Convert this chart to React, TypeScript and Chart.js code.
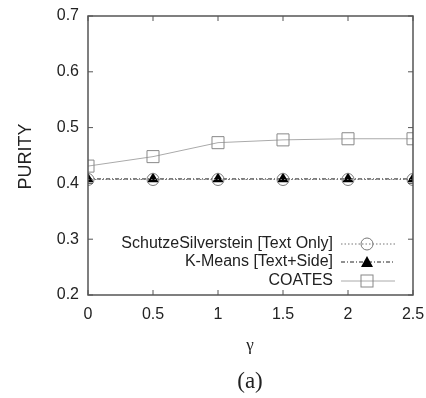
import React, { useEffect, useRef } from "react";
import { Chart, registerables } from "chart.js";

Chart.register(...registerables);

const gammaValues = [0, 0.5, 1, 1.5, 2, 2.5];
const schutzeValues = [0.407, 0.407, 0.407, 0.407, 0.407, 0.407];
const kmeansValues = [0.408, 0.408, 0.408, 0.408, 0.408, 0.408];
const coatesValues = [0.431, 0.448, 0.473, 0.478, 0.48, 0.48];
const xTickValues = [0, 0.5, 1, 1.5, 2, 2.5];
const yTickValues = [0.2, 0.3, 0.4, 0.5, 0.6, 0.7];
const seriesNames = [
  "SchutzeSilverstein [Text Only]",
  "K-Means [Text+Side]",
  "COATES",
];

const SANS = "'Liberation Sans', Arial, sans-serif";
const SERIF = "'Liberation Serif', 'Times New Roman', serif";

function drawMarker(ctx: CanvasRenderingContext2D, kind: string, x: number, y: number) {
  ctx.save();
  ctx.setLineDash([]);
  if (kind === "circle") {
    ctx.strokeStyle = "#777";
    ctx.lineWidth = 1;
    ctx.beginPath();
    ctx.arc(x, y, 6, 0, Math.PI * 2);
    ctx.stroke();
  } else if (kind === "triangle") {
    ctx.fillStyle = "#000";
    ctx.beginPath();
    ctx.moveTo(x, y - 6);
    ctx.lineTo(x + 6, y + 5);
    ctx.lineTo(x - 6, y + 5);
    ctx.closePath();
    ctx.fill();
  } else {
    ctx.strokeStyle = "#888";
    ctx.lineWidth = 1;
    ctx.strokeRect(x - 6, y - 6, 12, 12);
  }
  ctx.restore();
}

const framePlugin = {
  id: "frame",
  afterDraw(chart: any) {
    const { ctx, chartArea: a, scales } = chart;
    ctx.save();
    ctx.strokeStyle = "#555";
    ctx.lineWidth = 1;
    ctx.setLineDash([]);
    const seg = (x1: number, y1: number, x2: number, y2: number) => {
      ctx.beginPath();
      ctx.moveTo(x1, y1);
      ctx.lineTo(x2, y2);
      ctx.stroke();
    };
    xTickValues.forEach((v) => {
      const px = scales.x.getPixelForValue(v);
      seg(px, a.bottom, px, a.bottom - 5);
      seg(px, a.top, px, a.top + 5);
    });
    yTickValues.forEach((v) => {
      const py = scales.y.getPixelForValue(v);
      seg(a.left, py, a.left + 5, py);
      seg(a.right, py, a.right - 5, py);
    });
    ctx.strokeStyle = "#555";
    ctx.lineWidth = 1.5;
    ctx.strokeRect(a.left, a.top, a.right - a.left, a.bottom - a.top);

    // axis titles
    ctx.fillStyle = "#222";
    ctx.font = `18px ${SANS}`;
    ctx.textAlign = "center";
    ctx.textBaseline = "middle";
    ctx.save();
    ctx.translate(26, (a.top + a.bottom) / 2 + 1);
    ctx.rotate(-Math.PI / 2);
    ctx.fillText("PURITY", 0, 0);
    ctx.restore();

    ctx.font = `17px ${SERIF}`;
    ctx.fillText("γ", 250, 346);
    ctx.font = `23px ${SERIF}`;
    ctx.fillText("(a)", 250, 382);

    // legend
    const rows = [
      { y: 244, dash: [1.5, 2], color: "#777", marker: "circle" },
      { y: 262, dash: [4, 2, 1, 2], color: "#222", marker: "triangle" },
      { y: 281, dash: [], color: "#aaa", marker: "rect" },
    ];
    ctx.font = `16px ${SANS}`;
    ctx.textAlign = "right";
    rows.forEach((r, i) => {
      ctx.fillStyle = "#222";
      ctx.fillText(seriesNames[i], 333, r.y);
      ctx.strokeStyle = r.color;
      ctx.lineWidth = 1;
      ctx.setLineDash(r.dash);
      ctx.beginPath();
      ctx.moveTo(341, r.y);
      ctx.lineTo(395, r.y);
      ctx.stroke();
      drawMarker(ctx, r.marker, 367, r.y);
    });
    ctx.restore();
  },
};

export default function App() {
  const canvasRef = useRef<HTMLCanvasElement | null>(null);

  useEffect(() => {
    if (!canvasRef.current) return;
    const chart = new Chart(canvasRef.current, {
      type: "line",
      data: {
        datasets: [
          {
            label: seriesNames[0],
            data: gammaValues.map((x, i) => ({ x, y: schutzeValues[i] })),
            borderColor: "#777",
            borderWidth: 1,
            borderDash: [1.5, 2],
            pointStyle: "circle",
            pointRadius: 6,
            pointBorderColor: "#777",
            pointBackgroundColor: "rgba(0,0,0,0)",
            pointBorderWidth: 1,
            fill: false,
          },
          {
            label: seriesNames[1],
            data: gammaValues.map((x, i) => ({ x, y: kmeansValues[i] })),
            borderColor: "#222",
            borderWidth: 1,
            borderDash: [4, 2, 1, 2],
            pointStyle: "triangle",
            pointRadius: 6.5,
            pointBorderColor: "#000",
            pointBackgroundColor: "#000",
            pointBorderWidth: 0,
            fill: false,
          },
          {
            label: seriesNames[2],
            data: gammaValues.map((x, i) => ({ x, y: coatesValues[i] })),
            borderColor: "#aaa",
            borderWidth: 1,
            pointStyle: "rect",
            pointRadius: 8.5,
            pointBorderColor: "#888",
            pointBackgroundColor: "rgba(0,0,0,0)",
            pointBorderWidth: 1,
            fill: false,
          },
        ],
      },
      options: {
        responsive: false,
        animation: false,
        events: [],
        layout: { padding: { left: 0, top: 16, right: 13, bottom: 0 } },
        plugins: { legend: { display: false }, tooltip: { enabled: false } },
        scales: {
          x: {
            type: "linear",
            min: 0,
            max: 2.5,
            afterFit: (s: any) => {
              s.height = 103;
              s.paddingLeft = 0;
              s.paddingRight = 0;
            },
            afterBuildTicks: (s: any) => {
              s.ticks = xTickValues.map((v) => ({ value: v }));
            },
            grid: { display: false, drawTicks: false },
            border: { display: false },
            ticks: {
              padding: 10,
              color: "#222",
              font: { family: SANS, size: 16 },
              maxRotation: 0,
              autoSkip: false,
              callback: (v: any) => String(v),
            },
          },
          y: {
            type: "linear",
            min: 0.2,
            max: 0.7,
            afterFit: (s: any) => {
              s.width = 88;
              s.paddingTop = 0;
              s.paddingBottom = 0;
            },
            afterBuildTicks: (s: any) => {
              s.ticks = yTickValues.map((v) => ({ value: v }));
            },
            grid: { display: false, drawTicks: false },
            border: { display: false },
            ticks: {
              padding: 9,
              color: "#222",
              font: { family: SANS, size: 16 },
              autoSkip: false,
              callback: (v: any) => Number(v).toFixed(1),
            },
          },
        },
      },
      plugins: [framePlugin],
    });
    return () => chart.destroy();
  }, []);

  return (
    <div style={{ position: "fixed", left: 0, top: 0, width: 426, height: 398, background: "#fff" }}>
      <canvas ref={canvasRef} width={426} height={398} style={{ width: 426, height: 398 }} />
    </div>
  );
}
